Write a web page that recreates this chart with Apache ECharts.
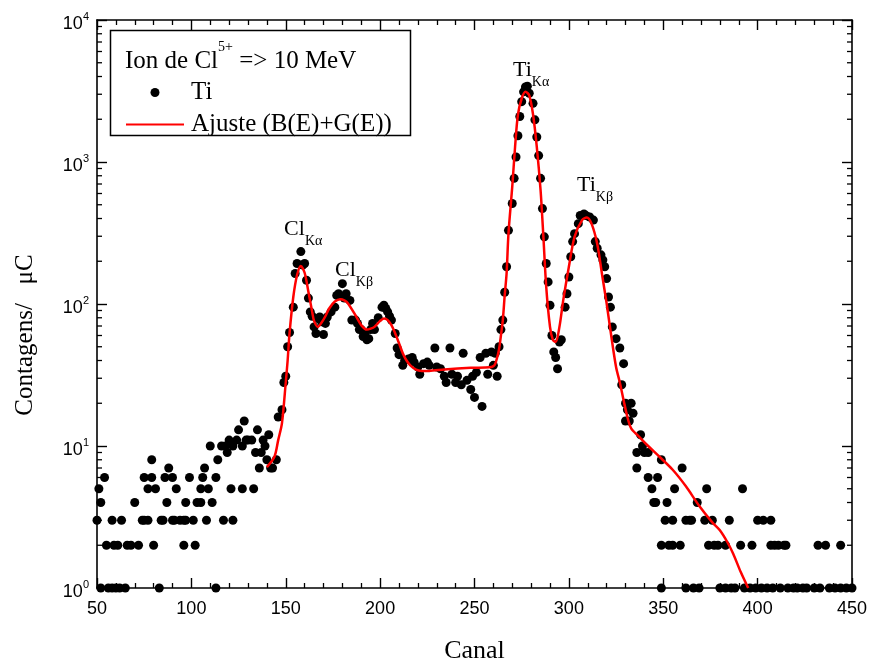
<!DOCTYPE html>
<html><head><meta charset="utf-8">
<script src="https://cdn.jsdelivr.net/npm/echarts@6/dist/echarts.min.js"></script>
<style>html,body{margin:0;padding:0;background:#fff}#chart{width:876px;height:663px}</style>
</head><body><div id="chart"></div>
<script>
// ---- measured data (channel, counts) ----
const lowRegionPts = [[50,3],[51,5],[52,4],[52,1],[54,6],[55,2],[56,1],[58,3],[58,1],[59,2],[60,1],[61,2],[62,1],[63,3],[65,1],[66,2],[68,2],[70,4],[72,2],[74,3],[75,6],[75,3],[77,3],[77,5],[79,8],[79,6],[80,2],[81,5],[83,1],[84,3],[85,3],[86,6],[87,4],[88,7],[90,3],[90,6],[91,3],[92,5],[94,3],[96,3],[96,2],[97,3],[97,4],[99,6],[101,3],[102,2],[103,4],[105,4],[105,5],[106,6],[107,7],[108,3],[109,5],[110,10],[111,4],[113,6],[113,1],[114,8],[116,10],[117,3],[118,10],[119,9],[120,11],[121,5],[122,10],[122,3],[124,11],[125,13],[127,10],[127,5],[128,15],[129,11],[130,11],[132,11],[133,5],[134,9],[135,13],[136,7],[137,9],[138,11],[139,10],[140,8],[141,12],[142,7],[143,7],[145,8],[146,16],[148,18],[149,28],[150,31]];
const clRegionPts = [[151,50],[152,63],[154,95],[155,164],[156,193],[158,234],[159,188],[160,193],[161,147],[162,110],[163,88],[164,82],[165,69],[166,62],[167,79],[168,81],[169,75],[170,61],[171,73],[172,81],[174,88],[176,95],[177,115],[178,118],[180,139],[181,110],[182,118],[184,106],[185,77],[187,77],[188,73],[189,66],[190,66],[191,59],[192,62],[193,56],[194,57],[195,66],[196,73],[197,66],[199,80],[201,95],[202,98],[203,93],[204,88],[205,82],[206,77],[208,62],[209,49],[210,44]];
const plateauPts = [[212,37],[213,40],[215,41],[217,42],[218,39],[220,36],[221,32],[223,38],[225,39],[226,37],[229,49],[230,36],[232,35],[234,31],[235,28],[237,49],[238,32],[240,28],[241,31],[243,27],[244,45],[246,29],[248,25],[249,31],[250,22],[251,33],[253,42],[254,19],[256,45],[257,32],[259,46],[260,37],[261,45],[262,31],[263,50]];
const tiRegionPts = [[264,66],[265,77],[266,121],[267,183],[268,330],[270,510],[271,767],[272,1085],[273,1530],[274,2090],[275,2660],[276,3120],[277,3380],[278,3420],[279,3050],[281,2590],[282,1980],[283,1500],[284,1110],[285,767],[286,470],[287,297],[288,193],[289,143],[290,98],[291,60],[292,46],[293,42],[294,35],[295,54],[296,56],[298,95],[299,118],[300,155],[301,215],[302,275],[303,313],[305,368],[306,420],[308,430],[309,420],[311,410],[313,390],[314,275],[315,247],[317,222],[318,204],[319,183],[320,151],[321,112],[322,95],[323,69],[325,57],[327,49],[328,27],[329,38]];
const tailPts = [[330,20],[330,15],[331,18],[332,15],[333,20],[334,17],[336,9],[336,7],[338,12],[339,10],[340,9],[342,6],[342,9],[344,5],[345,4],[346,4],[347,6],[349,8],[349,2],[349,1],[351,3],[352,4],[353,2],[355,3],[355,2],[356,5],[359,2],[360,7],[362,3],[362,1],[364,3],[365,3],[366,1],[368,4],[369,1],[372,3],[373,5],[374,2],[376,3],[377,2],[379,2],[380,1],[383,2],[383,1],[385,3],[386,1],[388,1],[391,2],[392,5],[393,1],[396,1],[397,2],[399,1],[400,3],[402,1],[403,3],[405,1],[407,3],[407,2],[408,1],[409,2],[411,2],[412,1],[414,2],[415,2],[416,1],[419,1],[421,1],[424,1],[426,1],[430,1],[432,2],[433,1],[436,2],[438,1],[441,1],[444,2],[444,1],[447,1],[450,1]];
// fitted curve B(E)+G(E)
const fitPts = [[140,7.1],[144,8.4],[146,11],[148,14.5],[150,28],[151,40],[152,62],[154,112],[156,160],[158,185],[160,166],[162,122],[164,88],[165,76],[167,69],[169,74],[171,82],[173,93],[176,104],[179,108],[181,106],[183,101],[187,83],[190,71],[193,66],[195,67],[197,69],[200,76],[202,79],[204,77],[206,71],[208,62],[210,53],[212,45],[214,40],[216,37],[219,34.5],[222,33.8],[226,33.8],[234,34.6],[248,35.5],[258,35.8],[260,36.5],[261,38],[262,42],[263,48],[264,60],[265,77],[266,115],[267,164],[268,313],[270,670],[271.5,1280],[273,2150],[275,2800],[277,3120],[279,2950],[281,2170],[283,1280],[285,635],[286.5,297],[288,132],[290,69],[291.5,56],[293,54],[295,69],[297,106],[300,183],[303,297],[307,390],[309.5,407],[312,368],[315,266],[317.5,164],[320,101],[322.5,59],[325,36],[327,28],[329,21],[331,16],[333,13.3],[337,11.7],[342,10],[348,8.4],[355,6.8],[362,5.2],[369,3.8],[376,2.9],[380,2.55],[384,2.1],[387,1.75],[391,1.3],[395,1.0]];
// peak annotations
const peakNames = ['Cl','Cl','Ti','Ti'];
const peakSubs = ['Kα','Kβ','Kα','Kβ'];
const peakX = [149.1,176.1,270.4,304.3];
const peakY = [337,174,4446,689];
// axis ticks
const xTickValues = [50,100,150,200,250,300,350,400,450];
const yMinorTicks = [2,3,4,5,6,7,8,9,20,30,40,50,60,70,80,90,200,300,400,500,600,700,800,900,2000,3000,4000,5000,6000,7000,8000,9000];
const seriesNames = ['Ti','Ajuste (B(E)+G(E))'];

const tiPoints = [].concat(lowRegionPts, clRegionPts, plateauPts, tiRegionPts, tailPts);
const annotData = peakX.map((x,i)=>[x, peakY[i], peakNames[i], peakSubs[i]]);
const xMin = xTickValues[0], xMax = xTickValues[xTickValues.length-1];

const SERIF = "'Liberation Serif','Times New Roman',serif";
const SANS = "'Liberation Sans',Arial,sans-serif";
const axisLineStyle = {color:'#000', width:1.6};

const chart = echarts.init(document.getElementById('chart'), null, {renderer:'canvas'});
const xBase = {
  type:'value', min:xMin, max:xMax, interval:50,
  splitLine:{show:false},
  axisLine:{show:true, onZero:false, lineStyle:axisLineStyle},
  axisTick:{show:true, inside:true, length:10, lineStyle:{color:'#000', width:1.4}},
  minorTick:{show:true, splitNumber:5, length:5, lineStyle:{color:'#000', width:1.3}},
  minorSplitLine:{show:false}
};
const yBase = {
  type:'log', logBase:10, min:1, max:10000,
  splitLine:{show:false},
  axisLine:{show:true, onZero:false, lineStyle:axisLineStyle},
  axisTick:{show:true, inside:true, length:10, lineStyle:{color:'#000', width:1.4}}
};
const baseGraphic = [
  {type:'rect', shape:{x:110.5, y:30.5, width:300, height:105}, style:{fill:'none', stroke:'#000', lineWidth:1.5}, z:10},
  {type:'text', x:125, y:53, z:10, style:{
    text:'{m|Ion de Cl}{s|5+}{m| => 10 MeV}', verticalAlign:'middle', align:'left',
    rich:{
      m:{fontFamily:SERIF, fontSize:25, fill:'#000', lineHeight:25, verticalAlign:'top', padding:[8,0,0,0]},
      s:{fontFamily:SERIF, fontSize:14, fill:'#000', lineHeight:14, verticalAlign:'top'}
    }}},
  {type:'text', x:25, y:335, rotation:Math.PI/2, z:10, style:{
    text:'Contagens/   μC', fontFamily:SERIF, fontSize:25, fill:'#000', align:'center', verticalAlign:'middle'}}
];
chart.setOption({
  animation:false,
  backgroundColor:'#fff',
  grid:{left:97, right:24, top:20, bottom:75, containLabel:false, outerBoundsMode:'none'},
  xAxis:[
    Object.assign({}, xBase, {
      position:'bottom',
      name:'Canal', nameLocation:'middle', nameGap:50,
      nameTextStyle:{fontFamily:SERIF, fontSize:26, color:'#000'},
      axisLabel:{show:true, margin:12, fontFamily:SANS, fontSize:18, color:'#000'}
    }),
    Object.assign({}, xBase, {position:'top', axisLabel:{show:false}})
  ],
  yAxis:[
    Object.assign({}, yBase, {
      position:'left',
      axisLabel:{show:true, margin:8,
        formatter:function(v){ return '{b|10}{s|' + Math.round(Math.log10(v)) + '}'; },
        rich:{
          b:{fontFamily:SANS, fontSize:18, color:'#000', lineHeight:18, verticalAlign:'top', padding:[4,0,0,0]},
          s:{fontFamily:SANS, fontSize:11, color:'#000', lineHeight:11, verticalAlign:'top'}
        }}
    }),
    Object.assign({}, yBase, {position:'right', axisLabel:{show:false}})
  ],
  legend:{
    data:[
      {name:seriesNames[0], icon:'circle'},
      {name:seriesNames[1], itemStyle:{opacity:0}}
    ],
    orient:'vertical', left:120, top:75, itemGap:7,
    itemWidth:58, itemHeight:9,
    textStyle:{fontFamily:SERIF, fontSize:25, color:'#000', lineHeight:24, padding:[0,0,0,2]},
    selectedMode:false
  },
  graphic:baseGraphic,
  series:[
    {
      name:seriesNames[0], type:'scatter', data:tiPoints, symbol:'circle', symbolSize:9,
      itemStyle:{color:'#000', opacity:1}, z:2, silent:true
    },
    {
      name:seriesNames[1], type:'line', data:fitPts, showSymbol:false, symbol:'none', smooth:0.3,
      lineStyle:{color:'#ff0000', width:2.5}, itemStyle:{color:'#ff0000'}, z:3, silent:true
    },
    {
      type:'scatter', data:annotData, symbolSize:0.1, itemStyle:{color:'#000', opacity:1}, silent:true, z:6,
      label:{show:true, position:'right', distance:0, color:'#000', opacity:1,
        formatter:function(p){ return '{m|' + p.value[2] + '}{s|' + p.value[3] + '}'; },
        rich:{
          m:{fontFamily:SERIF, fontSize:22, color:'#000', lineHeight:22, verticalAlign:'top'},
          s:{fontFamily:SERIF, fontSize:14, color:'#000', lineHeight:14, verticalAlign:'top', padding:[16,0,0,0]}
        }}
    }
  ]
});
// minor logarithmic ticks on left and right frame, positioned by the axes' own scales
const tickGraphics = [];
yMinorTicks.forEach(function(v){
  const l = chart.convertToPixel({xAxisIndex:0, yAxisIndex:0}, [xMin, v]);
  const r = chart.convertToPixel({xAxisIndex:0, yAxisIndex:0}, [xMax, v]);
  tickGraphics.push({type:'line', z:8, shape:{x1:l[0], y1:l[1], x2:l[0]+5, y2:l[1]}, style:{stroke:'#000', lineWidth:1.3}});
  tickGraphics.push({type:'line', z:8, shape:{x1:r[0]-5, y1:r[1], x2:r[0], y2:r[1]}, style:{stroke:'#000', lineWidth:1.3}});
});
chart.setOption({graphic: baseGraphic.concat(tickGraphics)});
</script></body></html>
